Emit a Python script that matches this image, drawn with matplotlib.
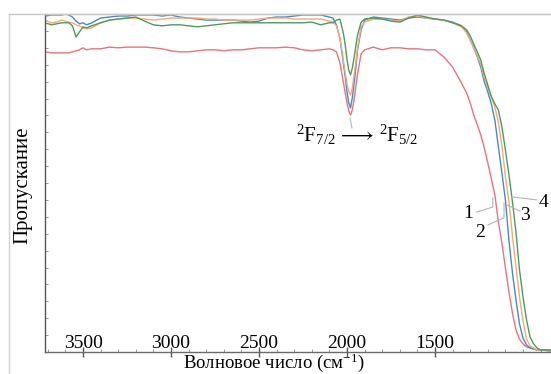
import matplotlib
matplotlib.use("Agg")
import matplotlib.pyplot as plt
from matplotlib.lines import Line2D
from matplotlib.ticker import MultipleLocator, FixedLocator

plt.rcParams['font.family'] = ['Liberation Serif', 'DejaVu Serif']
plt.rcParams['mathtext.fontset'] = 'custom'
plt.rcParams['mathtext.rm'] = 'Liberation Serif'
plt.rcParams['mathtext.it'] = 'Liberation Serif:italic'

# ---- data (wavenumber, cm^-1) ----
wavenumber = [3716, 3680, 3650, 3620, 3600, 3580, 3560, 3540, 3520, 3500,
              3480, 3450, 3400, 3350, 3300, 3250, 3200, 3150, 3100, 3050,
              3000, 2950, 2900, 2850, 2800, 2750, 2700, 2650, 2600, 2550,
              2500, 2450, 2400, 2350, 2300, 2250, 2200, 2150, 2100, 2080,
              2060, 2040, 2020, 2010, 2000, 1990, 1980, 1970, 1960, 1950,
              1940, 1920, 1900, 1850, 1800, 1750, 1700, 1650, 1600, 1550,
              1500, 1450, 1400, 1350, 1320, 1300, 1280, 1260, 1240, 1220,
              1200, 1180, 1160, 1140, 1120, 1100, 1080, 1060, 1040, 1020,
              1000, 980, 960, 940, 920, 900, 880, 860, 841]

# sample 1 (red)
trans_1 = [88.8, 88.5, 88.5, 88.5, 88.5, 88.5, 88.8, 89.1, 89.4, 90.0,
           89.4, 89.7, 89.7, 90.2, 90.0, 90.2, 90.2, 90.2, 90.0, 89.7,
           89.1, 88.8, 88.8, 89.1, 89.4, 89.4, 89.1, 89.4, 89.4, 89.7,
           90.0, 90.0, 90.0, 90.2, 90.0, 89.4, 89.1, 89.4, 89.7, 89.4,
           88.8, 85.5, 79.6, 76.6, 73.7, 71.3, 70.1, 71.6, 74.6, 78.4,
           82.3, 88.2, 89.4, 90.2, 89.4, 90.0, 90.0, 89.7, 89.7, 89.4,
           89.4, 87.3, 84.3, 79.6, 76.6, 73.7, 70.1, 67.2, 64.2, 60.4,
           55.9, 51.2, 46.5, 38.5, 32.3, 24.9, 17.8, 11.5, 6.5, 3.8,
           2.4, 1.5, 1.2, 0.9, 0.6, 0.6, 0.6, 0.3, 0.3]

# sample 2 (blue)
trans_2 = [99.4, 99.7, 99.7, 99.7, 100.0, 99.7, 99.1, 97.9, 97.1, 97.4,
           96.8, 97.4, 98.8, 99.1, 99.4, 99.4, 99.7, 99.7, 99.7, 99.4,
           99.7, 99.1, 98.8, 98.5, 98.2, 98.2, 98.2, 98.2, 97.9, 97.6,
           97.9, 98.8, 99.1, 99.1, 99.4, 99.7, 99.7, 99.7, 99.1, 98.8,
           96.8, 92.6, 85.2, 81.4, 76.9, 73.7, 72.2, 75.2, 79.3, 84.0,
           89.4, 95.3, 98.2, 99.1, 98.8, 98.5, 98.2, 98.8, 99.1, 98.8,
           98.5, 98.2, 97.6, 96.5, 94.7, 92.3, 90.0, 87.3, 84.3, 79.9,
           76.9, 73.4, 68.6, 60.7, 53.0, 45.0, 33.1, 23.4, 15.4, 8.3,
           4.1, 2.1, 1.2, 0.9, 0.6, 0.6, 0.6, 0.6, 0.6]

# sample 3 (orange)
trans_3 = [98.2, 97.4, 97.6, 98.2, 97.9, 97.6, 97.4, 96.8, 96.5, 95.9,
           95.6, 95.9, 97.4, 98.2, 98.5, 98.8, 98.8, 98.5, 98.2, 98.5,
           98.8, 98.8, 98.8, 98.8, 98.5, 98.5, 98.2, 98.2, 98.2, 98.2,
           98.5, 98.8, 98.8, 98.8, 98.5, 98.5, 98.5, 98.5, 97.9, 97.6,
           96.5, 92.9, 86.1, 82.5, 79.3, 76.9, 76.0, 78.1, 82.0, 85.8,
           90.0, 96.2, 97.6, 98.5, 98.5, 98.2, 97.9, 99.1, 99.4, 98.8,
           98.5, 98.2, 97.4, 96.2, 94.4, 92.3, 90.0, 87.6, 85.2, 81.1,
           78.1, 75.5, 72.5, 68.0, 61.0, 51.8, 44.4, 34.3, 25.2, 16.3,
           9.2, 3.8, 1.8, 1.2, 0.6, 0.6, 0.6, 0.6, 0.6]

# sample 4 (green)
trans_4 = [97.4, 96.8, 97.1, 97.4, 97.4, 97.4, 96.5, 93.2, 94.7, 96.2,
           95.9, 96.5, 97.4, 98.2, 98.5, 98.8, 99.1, 97.9, 96.8, 96.5,
           96.8, 96.8, 96.5, 96.2, 96.5, 96.8, 97.1, 97.4, 97.4, 97.4,
           97.4, 97.4, 97.4, 97.4, 97.4, 97.4, 97.6, 96.8, 97.4, 97.4,
           98.2, 98.5, 94.1, 90.8, 86.4, 83.4, 82.0, 84.0, 87.0, 90.5,
           93.8, 97.6, 98.5, 98.8, 98.5, 97.9, 97.6, 98.8, 99.7, 99.1,
           98.5, 98.2, 97.4, 96.5, 95.3, 93.5, 91.1, 88.8, 86.4, 82.3,
           79.0, 75.5, 73.4, 71.6, 66.6, 59.8, 52.4, 44.4, 35.5, 24.3,
           16.3, 9.5, 4.4, 2.4, 1.2, 0.6, 0.6, 0.6, 0.6]

x_ticks = [3500, 3000, 2500, 2000, 1500]
x_tick_labels = ["3500", "3000", "2500", "2000", "1500"]

series_colors = ["#e8747c", "#4c87c6", "#f4aa7c", "#4f9a5c"]
curve_labels = ["1", "2", "3", "4"]

# ---- figure ----
fig = plt.figure(figsize=(5.51, 3.74), dpi=100)
ax = fig.add_axes([45 / 551, 22 / 374, 506 / 551, 338 / 374])

for vals, col in zip([trans_1, trans_2, trans_3, trans_4], series_colors):
    ax.plot(wavenumber, vals, color=col, lw=1.0, solid_joinstyle='round')

ax.set_xlim(3716, 841)
ax.set_ylim(0, 100)

# spines
ax.spines['right'].set_visible(False)
ax.spines['top'].set_color('#c9c9c9')
ax.spines['top'].set_linewidth(1.0)
ax.spines['left'].set_color('#555555')
ax.spines['bottom'].set_color('#6a6a6a')
ax.spines['left'].set_linewidth(1.0)
ax.spines['bottom'].set_linewidth(1.0)

ax.xaxis.set_major_locator(FixedLocator(x_ticks))
ax.set_xticklabels(x_tick_labels)
ax.xaxis.set_minor_locator(MultipleLocator(100))
ax.tick_params(axis='x', which='major', direction='inout', length=7, width=1.0,
               color='#555555', labelsize=14, pad=-15.5)
ax.tick_params(axis='x', which='minor', direction='in', length=2.5, width=0.6,
               color='#888888')
ax.yaxis.set_major_locator(MultipleLocator(5))
ax.tick_params(axis='y', which='major', direction='in', length=2.5, width=0.6,
               color='#888888', labelleft=False)

ax.set_xlabel("Волновое число (см$^{-1}$)", fontsize=13.5, va='center')
ax.xaxis.set_label_coords(0.453, -0.032)
ax.set_ylabel("Пропускание", fontsize=15, va='center', ha='center')
ax.yaxis.set_label_coords(-0.043, 0.494)

# transition annotation
ax.plot([1983, 1972], [69.2, 66.3], color='#bbbbbb', lw=0.8)
ax.text(1943, 64.2, r"$^2$F$_{7/2}$$\,\longrightarrow\,$$^2$F$_{5/2}$", fontsize=15,
        ha='center', va='center')

# curve number labels with leaders
label_pos = [(1312, 41.1), (1244, 35.5), (989, 40.5), (886, 44.1)]
leader_x = [[1263, 1172, 1172], [1199, 1108, 1108], [1017, 1092], [922, 1064]]
leader_y = [[41.4, 42.9, 45.6], [37.6, 39.7, 44.1], [41.7, 43.5], [45.0, 45.9]]
for lab, (lx, ly), xs, ys in zip(curve_labels, label_pos, leader_x, leader_y):
    ax.plot(xs, ys, color='#b5b5b5', lw=0.8)
    ax.text(lx, ly, lab, fontsize=14, ha='center', va='center')

# light outer frame
fig.add_artist(Line2D([9 / 551, 9 / 551], [0, 360 / 374], color='#d0d0d0', lw=1.0,
                      transform=fig.transFigure))
fig.add_artist(Line2D([9 / 551, 1], [360 / 374, 360 / 374], color='#c9c9c9', lw=1.0,
                      transform=fig.transFigure))

fig.savefig("out.png", dpi=100)
